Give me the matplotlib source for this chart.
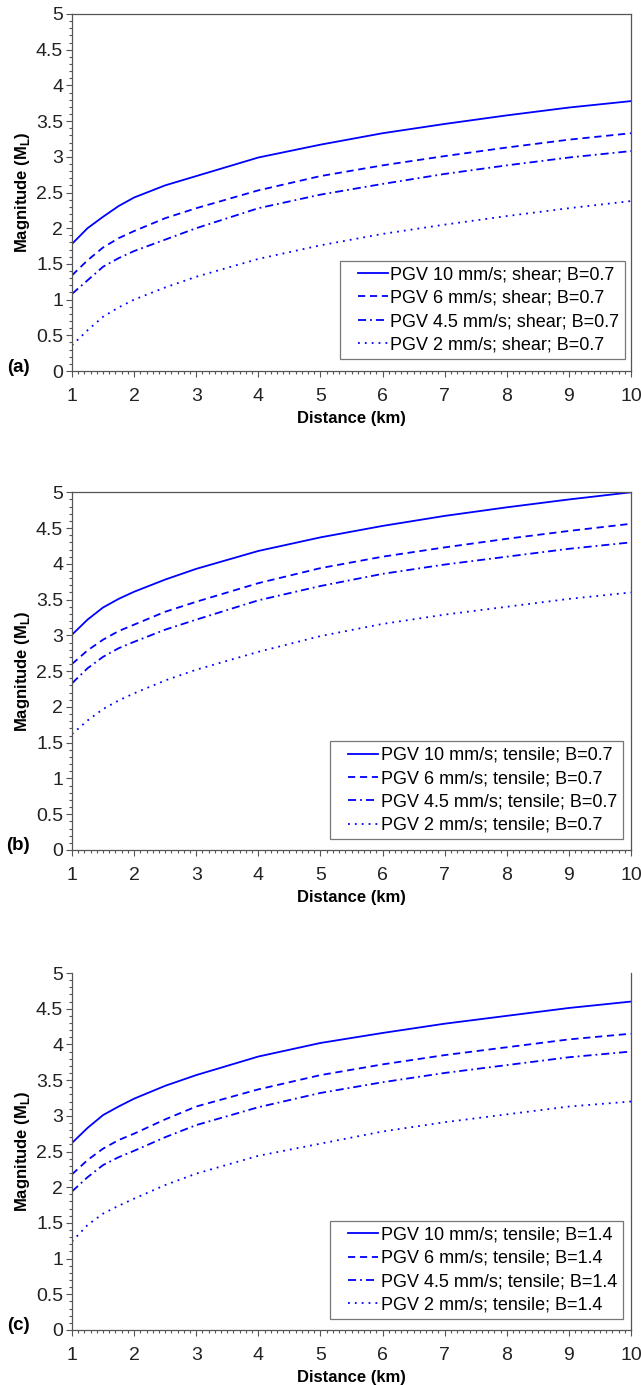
import matplotlib
matplotlib.use("Agg")
import matplotlib.pyplot as plt
from matplotlib.ticker import MultipleLocator
from matplotlib.legend_handler import HandlerLine2D

plt.rcParams['font.family'] = ['Liberation Sans', 'DejaVu Sans']

# distance (km)
dist = [1, 1.25, 1.5, 1.75, 2, 2.5, 3, 4, 5, 6, 7, 8, 9, 10]

# (a) shear, B=0.7
a_pgv10 = [1.78, 2.00, 2.16, 2.31, 2.43, 2.60, 2.73, 2.99, 3.17, 3.33, 3.46, 3.58, 3.69, 3.78]
a_pgv6 = [1.34, 1.55, 1.73, 1.86, 1.96, 2.14, 2.28, 2.53, 2.73, 2.88, 3.01, 3.13, 3.24, 3.33]
a_pgv45 = [1.08, 1.27, 1.46, 1.58, 1.68, 1.84, 2.00, 2.28, 2.47, 2.62, 2.76, 2.88, 2.99, 3.08]
a_pgv2 = [0.36, 0.57, 0.76, 0.89, 1.00, 1.17, 1.32, 1.57, 1.76, 1.92, 2.05, 2.17, 2.28, 2.38]

# (b) tensile, B=0.7
b_pgv10 = [3.01, 3.22, 3.39, 3.51, 3.61, 3.78, 3.93, 4.18, 4.37, 4.53, 4.67, 4.79, 4.90, 5.00]
b_pgv6 = [2.60, 2.79, 2.94, 3.06, 3.15, 3.33, 3.47, 3.73, 3.94, 4.10, 4.23, 4.35, 4.46, 4.56]
b_pgv45 = [2.33, 2.54, 2.70, 2.82, 2.91, 3.08, 3.22, 3.49, 3.69, 3.86, 3.99, 4.10, 4.21, 4.30]
b_pgv2 = [1.62, 1.81, 1.97, 2.09, 2.19, 2.37, 2.52, 2.77, 2.99, 3.16, 3.29, 3.40, 3.51, 3.60]

# (c) tensile, B=1.4
c_pgv10 = [2.62, 2.83, 3.01, 3.13, 3.24, 3.42, 3.57, 3.83, 4.02, 4.16, 4.29, 4.40, 4.51, 4.60]
c_pgv6 = [2.18, 2.38, 2.54, 2.66, 2.75, 2.95, 3.13, 3.37, 3.57, 3.72, 3.85, 3.96, 4.07, 4.15]
c_pgv45 = [1.94, 2.14, 2.31, 2.42, 2.51, 2.70, 2.87, 3.12, 3.32, 3.47, 3.60, 3.71, 3.82, 3.90]
c_pgv2 = [1.24, 1.47, 1.63, 1.74, 1.84, 2.03, 2.19, 2.44, 2.61, 2.78, 2.91, 3.02, 3.13, 3.20]

pgv_names = ['10', '6', '4.5', '2']
styles = ['-', (0, (4, 2.6)), (0, (4.5, 2.2, 1, 2.2)), (0, (1, 2.8))]

panels = [
    ('(a)', 'shear', '0.7', [a_pgv10, a_pgv6, a_pgv45, a_pgv2]),
    ('(b)', 'tensile', '0.7', [b_pgv10, b_pgv6, b_pgv45, b_pgv2]),
    ('(c)', 'tensile', '1.4', [c_pgv10, c_pgv6, c_pgv45, c_pgv2]),
]

H = 1385.0
# (top, bottom) pixel rows of each plot area, legend anchor (axes fraction)
rows = [(14, 371), (492.3, 850), (973, 1330)]
leg_anchor = [(0.989, 0.034), (0.985, 0.030), (0.985, 0.031)]

fig = plt.figure(figsize=(6.41, 13.85), dpi=100)

for (tag, mech, bval, series), (top, bot), anc in zip(panels, rows, leg_anchor):
    ax = fig.add_axes([72 / 641, 1 - bot / H, (631 - 72) / 641, (bot - top) / H])
    for vals, name, ls in zip(series, pgv_names, styles):
        ax.plot(dist, vals, color='#0000ff', lw=1.3, linestyle=ls,
                label=f'PGV {name} mm/s; {mech}; B={bval}')
    ax.set_xlim(1, 10)
    ax.set_ylim(0, 5)
    ax.xaxis.set_major_locator(MultipleLocator(1))
    ax.xaxis.set_minor_locator(MultipleLocator(0.1))
    ax.yaxis.set_minor_locator(MultipleLocator(0.1))
    ax.set_yticks([0, 0.5, 1, 1.5, 2, 2.5, 3, 3.5, 4, 4.5, 5])
    ax.set_yticklabels(['0', '0.5', '1', '1.5', '2', '2.5', '3', '3.5', '4', '4.5', '5'])
    ax.tick_params(which='major', length=4.3, width=0.8, color='#555555', labelsize=14,
                   labelcolor='#222222')
    ax.tick_params(which='minor', length=2.5, width=0.8, color='#555555')
    ax.tick_params(axis='x', which='major', pad=8.2)
    ax.tick_params(axis='y', which='major', pad=2)
    for s in ax.spines.values():
        s.set_color('#555555')
        s.set_linewidth(0.9)
    if tag == '(c)':
        ax.spines['top'].set_visible(False)
    ax.set_xlabel('Distance (km)', fontsize=12, fontweight='bold', labelpad=4)
    ax.set_ylabel(r'Magnitude (M$_{\mathregular{L}}$)', fontsize=12, fontweight='bold',
                  labelpad=3)
    leg = ax.legend(loc='lower right', bbox_to_anchor=anc, fontsize=13,
                    frameon=True, fancybox=False, framealpha=1, edgecolor='#777777',
                    handlelength=2.35, handletextpad=0.15, labelspacing=0.35,
                    borderpad=0.3, borderaxespad=0,
                    handler_map={plt.Line2D: HandlerLine2D(xpad=0.7)})
    leg.get_frame().set_linewidth(0.9)
    fig.text(18 / 641, 1 - (bot - 4) / H, tag, fontsize=13.5, fontweight='bold',
             ha='center', va='center')

plt.savefig('out.png', dpi=100)
